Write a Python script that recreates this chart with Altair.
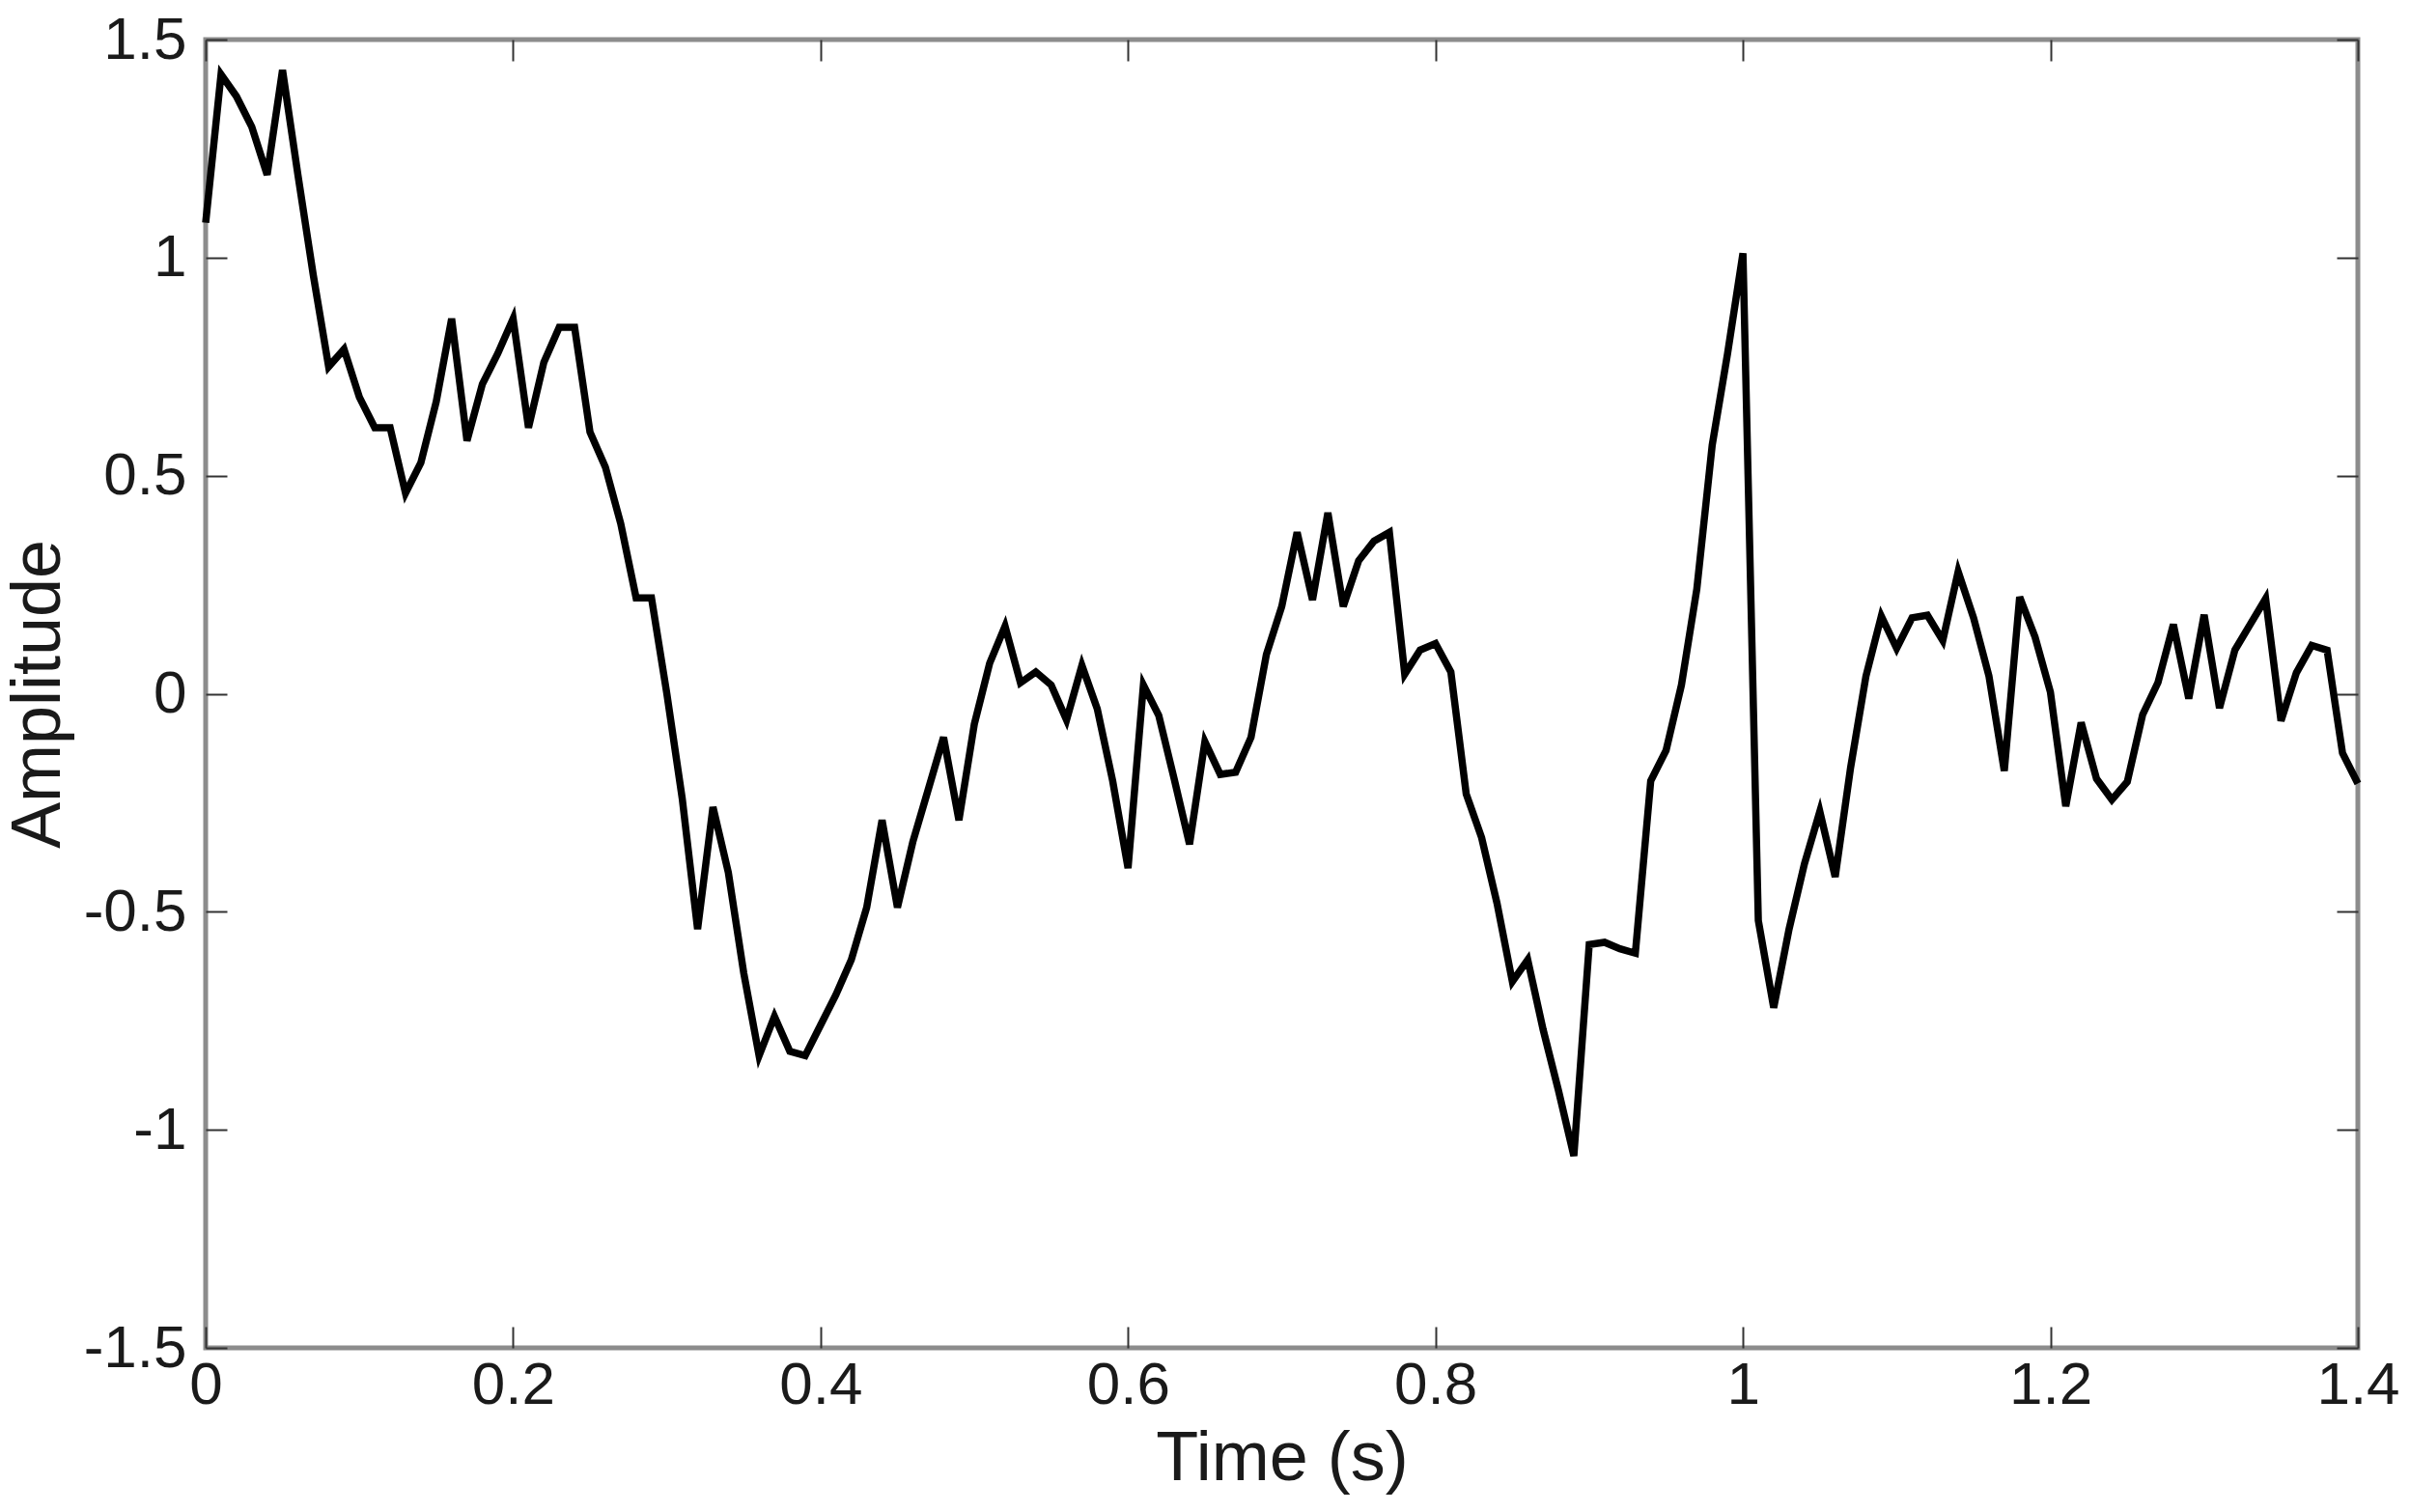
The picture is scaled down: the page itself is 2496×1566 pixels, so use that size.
import altair as alt
import pandas as pd

# Amplitude samples every 0.01 s from 0 to 1.4 s
amplitude = [
    1.08, 1.42, 1.37, 1.30, 1.19, 1.43, 1.19, 0.96, 0.75, 0.79,
    0.68, 0.61, 0.61, 0.46, 0.53, 0.67, 0.86, 0.58, 0.71, 0.78,
    0.86, 0.61, 0.76, 0.84, 0.84, 0.60, 0.52, 0.39, 0.22, 0.22,
    0.00, -0.24, -0.54, -0.26, -0.41, -0.64, -0.83, -0.74, -0.82, -0.83,
    -0.76, -0.69, -0.61, -0.49, -0.29, -0.49, -0.34, -0.22, -0.10, -0.29,
    -0.07, 0.07, 0.155, 0.025, 0.05, 0.02, -0.06, 0.065, -0.035, -0.20,
    -0.40, 0.02, -0.05, -0.195, -0.345, -0.11, -0.185, -0.18, -0.10, 0.09,
    0.20, 0.37, 0.215, 0.415, 0.20, 0.305, 0.35, 0.37, 0.045, 0.10,
    0.115, 0.05, -0.23, -0.33, -0.48, -0.66, -0.61, -0.77, -0.91, -1.06,
    -0.575, -0.57, -0.585, -0.595, -0.20, -0.13, 0.02, 0.24, 0.57, 0.78,
    1.01, -0.52, -0.72, -0.54, -0.39, -0.27, -0.42, -0.17, 0.04, 0.178,
    0.104, 0.174, 0.18, 0.122, 0.28, 0.174, 0.041, -0.177, 0.222, 0.13,
    0.004, -0.258, -0.066, -0.195, -0.243, -0.202, -0.048, 0.026, 0.159, -0.011,
    0.181, -0.033, 0.10, 0.159, 0.218, -0.062, 0.048, 0.111, 0.10, -0.136,
    -0.206,
]
time_s = [round(i * 0.01, 2) for i in range(len(amplitude))]

x_ticks = [0, 0.2, 0.4, 0.6, 0.8, 1.0, 1.2, 1.4]
y_ticks = [-1.5, -1.0, -0.5, 0, 0.5, 1.0, 1.5]
x_title = "Time (s)"
y_title = "Amplitude"

df = pd.DataFrame({"t": time_s, "a": amplitude})

FONT = "Liberation Sans, Helvetica, Arial, sans-serif"
TICK_IN = 22
TICK_COLOR = "#333333"
LABEL_COLOR = "#1a1a1a"

x_scale = alt.Scale(domain=[0, 1.4], nice=False, zero=False)
y_scale = alt.Scale(domain=[-1.5, 1.5], nice=False, zero=False)

lbl = "datum.value < 0 ? '-' + format(-datum.value, '.2~f') : format(datum.value, '.2~f')"

common = dict(
    offset=-TICK_IN,
    tickSize=TICK_IN,
    tickColor=TICK_COLOR,
    tickWidth=2,
    domain=False,
    grid=False,
)

line = alt.Chart(df).mark_line(color="black", strokeWidth=7.5).encode(
    x=alt.X(
        "t:Q",
        scale=x_scale,
        axis=alt.Axis(
            orient="bottom",
            values=x_ticks,
            labelExpr=lbl,
            labelFont=FONT,
            labelFontSize=62,
            labelColor=LABEL_COLOR,
            labelPadding=8,
            labelFlush=False,
            title=x_title,
            titleFont=FONT,
            titleFontSize=72,
            titleFontWeight="normal",
            titleColor=LABEL_COLOR,
            titlePadding=10,
            **common,
        ),
    ),
    y=alt.Y(
        "a:Q",
        scale=y_scale,
        axis=alt.Axis(
            orient="left",
            values=y_ticks,
            labelExpr=lbl,
            labelFont=FONT,
            labelFontSize=62,
            labelColor=LABEL_COLOR,
            labelPadding=20,
            labelFlush=False,
            title=y_title,
            titleFont=FONT,
            titleFontSize=72,
            titleFontWeight="normal",
            titleColor=LABEL_COLOR,
            titlePadding=10,
            **common,
        ),
    ),
)

ticks_other = alt.Chart(df).mark_line(opacity=0).encode(
    x=alt.X(
        "t:Q",
        scale=x_scale,
        axis=alt.Axis(orient="top", values=x_ticks, labels=False, title=None, **common),
    ),
    y=alt.Y(
        "a:Q",
        scale=y_scale,
        axis=alt.Axis(orient="right", values=y_ticks, labels=False, title=None, **common),
    ),
)

chart = (
    alt.layer(line, ticks_other)
    .resolve_axis(x="independent", y="independent")
    .properties(
        width=2229,
        height=1355,
        padding={"left": 205, "top": 33, "right": 46, "bottom": 162},
        autosize=alt.AutoSizeParams(type="none"),
        background="white",
    )
    .configure_view(stroke="#8c8c8c", strokeWidth=5)
)

chart.save("out.html", embed_options={"renderer": "svg", "actions": False})
